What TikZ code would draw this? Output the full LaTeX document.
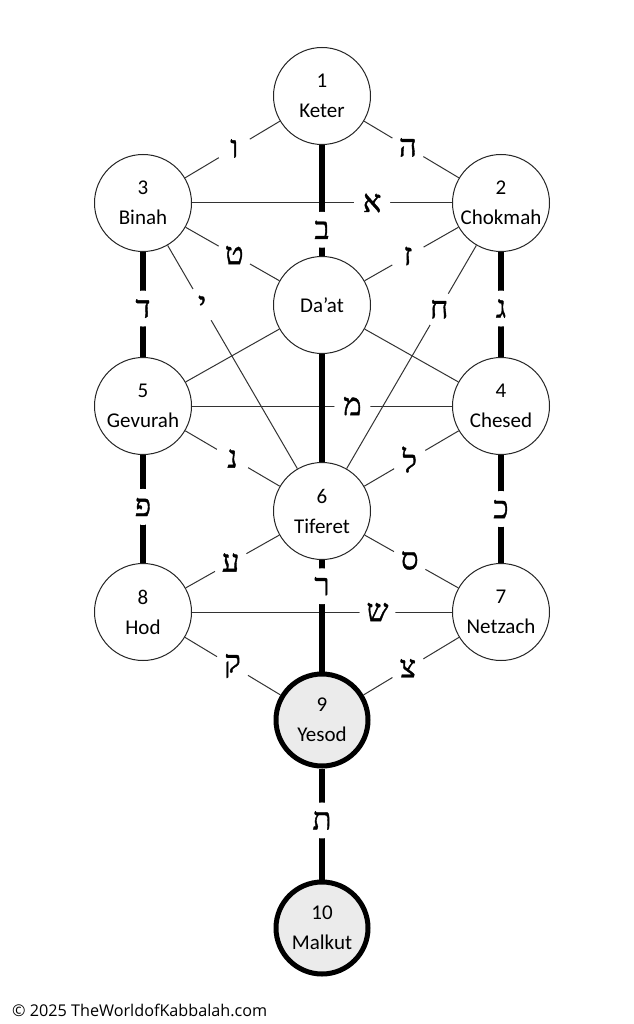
\documentclass[tikz,border=0pt]{standalone}
\usepackage{fontspec}
\usetikzlibrary{calc}
\newfontfamily\carlito{Carlito}
\newfontfamily\hebfont[Script=Hebrew,FakeBold=1.2]{Liberation Serif}
\newfontfamily\footfont{Open Sans}
\begin{document}
\begin{tikzpicture}[x=1pt,y=-1pt,
 sef/.style={circle, draw=black!85, line width=1pt, fill=white, minimum size=97pt, inner sep=0pt, align=center, font=\carlito\fontsize{21}{30}\selectfont},
 sefthick/.style={sef, line width=5pt, draw=black, fill=black!8, minimum size=92pt},
 thinpath/.style={draw=black!80, line width=1pt},
 thickpath/.style={draw=black, line width=5.5pt},
 lbl/.style={circle, fill=white, minimum size=36pt, inner sep=0pt, font=\hebfont\fontsize{31}{31}\selectfont}
]
\useasboundingbox (0,0) rectangle (633,1024);
\fill[white] (0,0) rectangle (633,1024);

% sefirot
\node[sef] (keter)   at (322,96)  {1\\Keter};
\node[sef] (binah)   at (143,203) {3\\Binah};
\node[sef] (chokmah) at (501,203) {2\\Chokmah};
\node[sef] (daat)    at (322,305) {Da’at};
\node[sef] (gevurah) at (143,406) {5\\Gevurah};
\node[sef] (chesed)  at (501,406) {4\\Chesed};
\node[sef] (tiferet) at (322,511) {6\\Tiferet};
\node[sef] (hod)     at (143,612) {8\\Hod};
\node[sef] (netzach) at (501,612) {7\\Netzach};
\node[sefthick] (yesod)  at (322,720) {9\\Yesod};
\node[sefthick] (malkut) at (322,928) {10\\Malkut};

% thin paths
\draw[thinpath] (keter) -- (binah);
\draw[thinpath] (keter) -- (chokmah);
\draw[thinpath] (binah) -- (chokmah);
\draw[thinpath] (binah) -- (daat);
\draw[thinpath] (chokmah) -- (daat);
\draw[thinpath] (binah) -- (tiferet);
\draw[thinpath] (chokmah) -- (tiferet);
\draw[thinpath] (daat) -- (gevurah);
\draw[thinpath] (daat) -- (chesed);
\draw[thinpath] (gevurah) -- (chesed);
\draw[thinpath] (gevurah) -- (tiferet);
\draw[thinpath] (chesed) -- (tiferet);
\draw[thinpath] (tiferet) -- (hod);
\draw[thinpath] (tiferet) -- (netzach);
\draw[thinpath] (hod) -- (netzach);
\draw[thinpath] (hod) -- (yesod);
\draw[thinpath] (netzach) -- (yesod);

% thick paths
\draw[thickpath] (keter) -- (daat);
\draw[thickpath] (daat) -- (tiferet);
\draw[thickpath] (binah) -- (gevurah);
\draw[thickpath] (gevurah) -- (hod);
\draw[thickpath] (chokmah) -- (chesed);
\draw[thickpath] (chesed) -- (netzach);
\draw[thickpath] (tiferet) -- (yesod);
\draw[thickpath] (yesod) -- (malkut);

% letters
\node[lbl] (l01) at ($(keter)!0.49!(binah)$) {ו};
\node[lbl] (l02) at ($(keter)!0.48!(chokmah)$) {ה};
\node[lbl] (l03) at ($(binah)!0.64!(chokmah)$) {א};
\node[lbl] (l04) at ($(keter)!0.64!(daat)$) {ב};
\node[lbl] (l05) at ($(binah)!0.51!(daat)$) {ט};
\node[lbl] (l06) at ($(chokmah)!0.52!(daat)$) {ז};
\node[lbl] (l07) at ($(binah)!0.33!(tiferet)$) {י};
\node[lbl] (l08) at ($(chokmah)!0.345!(tiferet)$) {ח};
\node[lbl] (l09) at ($(gevurah)!0.585!(chesed)$) {מ};
\node[lbl] (l10) at ($(gevurah)!0.5!(tiferet)$) {נ};
\node[lbl] (l11) at ($(chesed)!0.51!(tiferet)$) {ל};
\node[lbl] (l12) at ($(tiferet)!0.51!(hod)$) {ע};
\node[lbl] (l13) at ($(tiferet)!0.49!(netzach)$) {ס};
\node[lbl] (l14) at ($(hod)!0.655!(netzach)$) {ש};
\node[lbl] (l15) at ($(hod)!0.5!(yesod)$) {ק};
\node[lbl] (l16) at ($(netzach)!0.52!(yesod)$) {צ};
\node[lbl] (l17) at ($(binah)!0.52!(gevurah)$) {ד};
\node[lbl] (l18) at ($(gevurah)!0.49!(hod)$) {פ};
\node[lbl] (l19) at ($(chokmah)!0.52!(chesed)$) {ג};
\node[lbl] (l20) at ($(chesed)!0.50!(netzach)$) {כ};
\node[lbl] (l21) at ($(tiferet)!0.36!(yesod)$) {ר};
\node[lbl] (l22) at ($(yesod)!0.483!(malkut)$) {ת};

% footer
\node[anchor=west, inner sep=0pt, font=\footfont\fontsize{16.2}{16}\selectfont] (foot) at (12,1010) {© 2025 TheWorldofKabbalah.com};
\end{tikzpicture}
\end{document}
